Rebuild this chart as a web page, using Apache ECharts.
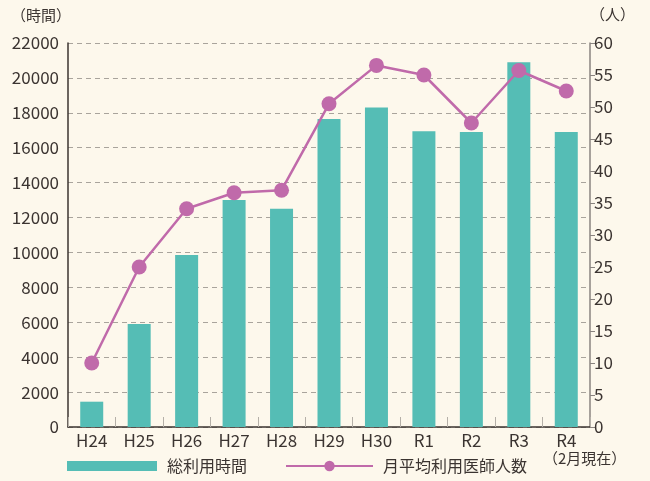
<!DOCTYPE html>
<html>
<head>
<meta charset="utf-8">
<script src="https://cdn.jsdelivr.net/npm/echarts@6/dist/echarts.min.js"></script>
<style>
  html, body { margin: 0; padding: 0; background: #fdf8ec; }
  #chart { width: 650px; height: 481px; }
</style>
</head>
<body>
<div id="chart"></div>
<script>
// 年度
const years = ['H24', 'H25', 'H26', 'H27', 'H28', 'H29', 'H30', 'R1', 'R2', 'R3', 'R4'];
// 総利用時間（時間）
const totalHours = [1450, 5900, 9850, 13000, 12500, 17650, 18300, 16950, 16900, 20900, 16900];
// 月平均利用医師人数（人）
const avgDoctors = [10, 25, 34.1, 36.6, 37.0, 50.5, 56.5, 55, 47.5, 55.7, 52.5];

const textColor = '#3b3431';
const font = '"Noto Sans CJK JP", "Noto Sans", sans-serif';

const chart = echarts.init(document.getElementById('chart'));
chart.setOption({
  backgroundColor: '#fdf8ec',
  textStyle: { fontFamily: font, color: textColor },
  grid: { left: 68, right: 60, top: 43, bottom: 54 },
  legend: [
    {
      left: 67,
      top: 458,
      padding: 0,
      itemWidth: 90,
      itemHeight: 10,
      textStyle: { fontSize: 16, color: textColor, fontFamily: font, padding: [0, 0, 0, 5] },
      data: [{ name: '総利用時間', icon: 'rect' }]
    },
    {
      left: 285,
      top: 458,
      padding: 0,
      itemWidth: 87,
      itemHeight: 13,
      textStyle: { fontSize: 16, color: textColor, fontFamily: font, padding: [0, 0, 0, 5] },
      data: [{ name: '月平均利用医師人数' }]
    }
  ],
  graphic: [
    { type: 'text', left: 11, top: 8, style: { text: '（時間）', fontSize: 15, fill: textColor, fontFamily: font } },
    { type: 'text', left: 590, top: 7, style: { text: '（人）', fontSize: 15, fill: textColor, fontFamily: font } },
    { type: 'text', left: 543, top: 451, style: { text: '（2月現在）', fontSize: 15, fill: textColor, fontFamily: font } }
  ],
  xAxis: {
    type: 'category',
    data: years,
    axisLine: { lineStyle: { color: '#3b3431', width: 1.5 } },
    axisTick: { show: true, inside: true, length: 10, lineStyle: { color: '#b5b0a8' } },
    axisLabel: { fontSize: 17, color: textColor, margin: 5 }
  },
  yAxis: [
    {
      type: 'value',
      min: 0,
      max: 22000,
      interval: 2000,
      axisLine: { show: true, lineStyle: { color: '#3b3431', width: 1.5 } },
      axisTick: { show: false },
      axisLabel: { fontSize: 17, color: textColor, margin: 9, formatter: (v) => String(v) },
      splitLine: { lineStyle: { color: '#a9a49c', type: [5, 4] } }
    },
    {
      type: 'value',
      min: 0,
      max: 60,
      interval: 5,
      position: 'right',
      axisLine: { show: true, lineStyle: { color: '#8a8480', width: 1.5 } },
      axisTick: { show: true, length: 5, lineStyle: { color: '#8a8480' } },
      axisLabel: { fontSize: 17, color: textColor, margin: 4 },
      splitLine: { show: false }
    }
  ],
  series: [
    {
      name: '総利用時間',
      type: 'bar',
      data: totalHours,
      barWidth: 23,
      itemStyle: { color: '#55bdb5' }
    },
    {
      name: '月平均利用医師人数',
      type: 'line',
      yAxisIndex: 1,
      data: avgDoctors,
      symbol: 'circle',
      symbolSize: 15,
      lineStyle: { color: '#c06aaa', width: 2.5 },
      itemStyle: { color: '#c06aaa' }
    }
  ]
});
</script>
</body>
</html>
